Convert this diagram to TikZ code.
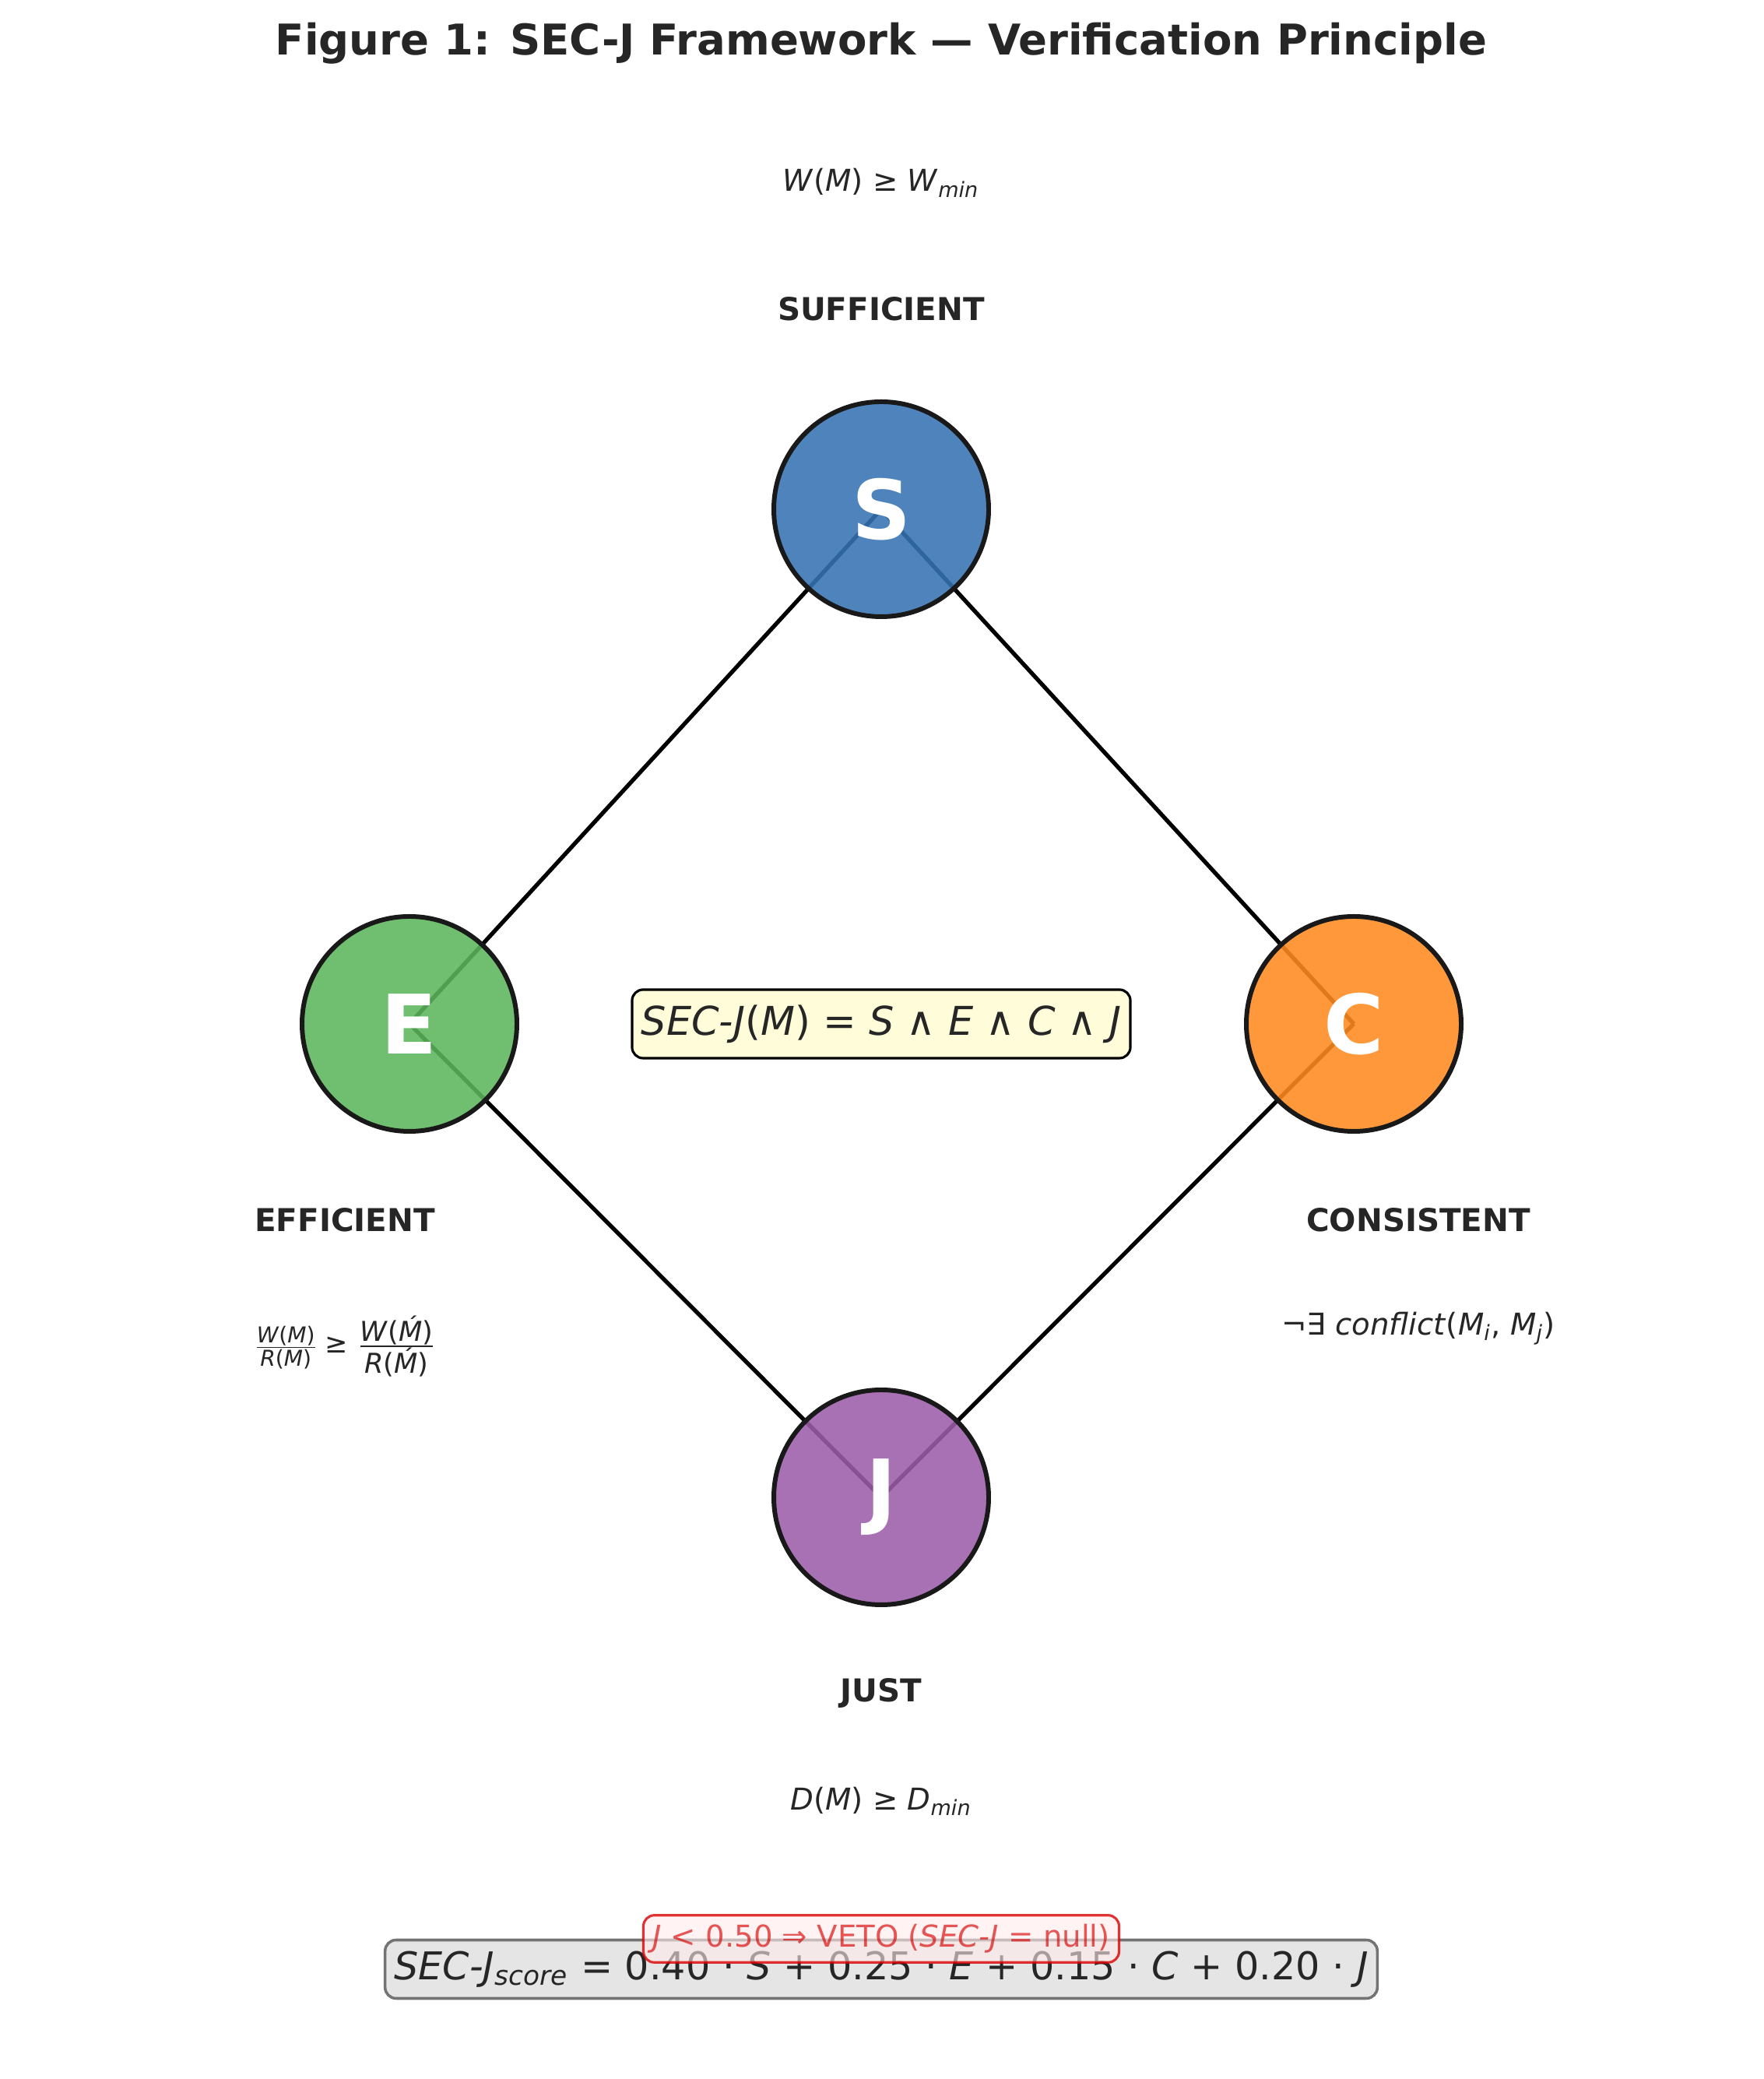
\documentclass[tikz,border=0pt]{standalone}
\usepackage{fontspec}
\setmainfont{DejaVu Sans}
\usetikzlibrary{positioning, calc}
\newcommand{\vi}[1]{\textit{#1}}
\definecolor{sblue}{HTML}{3573B2}
\definecolor{egreen}{HTML}{5CB55C}
\definecolor{corange}{HTML}{FF8A1F}
\definecolor{jpurple}{HTML}{9C5DA9}
\definecolor{txtgray}{HTML}{262626}

\begin{document}
\begin{tikzpicture}[
  % Node Styles
  pillar/.style={circle, draw=black!90, line width=1.7pt, fill opacity=0.88, text opacity=1, minimum size=2.76cm, text=white, font=\fontsize{30}{30}\selectfont\bfseries},
  tag/.style={text=txtgray, font=\fontsize{11.5}{13}\selectfont\bfseries},
  cond/.style={text=txtgray, font=\fontsize{11}{13}\selectfont},
  % Edge Styles
  edge/.style={line width=1.5pt, black}
]
\useasboundingbox (0,0) rectangle (22.65,26.7);

% Title
\node[tag, font=\fontsize{15.5}{18}\selectfont\bfseries] (title) at (11.32,26.14) {Figure 1: SEC-J Framework — Verification Principle};

% Corner coordinates
\coordinate (pS) at (11.32,20.16);
\coordinate (pE) at (5.26,13.55);
\coordinate (pC) at (17.39,13.55);
\coordinate (pJ) at (11.32,7.47);

% Edges (behind the circles)
\draw[edge] (pS) -- (pE);
\draw[edge] (pS) -- (pC);
\draw[edge] (pE) -- (pJ);
\draw[edge] (pC) -- (pJ);

% Pillars
\node[pillar, fill=sblue] (S) at (pS) {S};
\node[pillar, fill=egreen] (E) at (pE) {E};
\node[pillar, fill=corange] (C) at (pC) {C};
\node[pillar, fill=jpurple] (J) at (pJ) {J};

% Labels
\node[tag] (Ssuff) at (11.32,22.73) {SUFFICIENT};
\node[cond] (Scond) at (11.32,24.35) {\vi{W}(\vi{M}) ≥ \vi{W}\textsubscript{\vi{min}}};
\node[tag] (Eeff) at (4.43,11.03) {EFFICIENT};
\node[cond, font=\fontsize{8}{9}\selectfont] (Econd) at (4.43,9.41) {$\frac{\mbox{\vi{W}(\vi{M})}}{\mbox{\vi{R}(\vi{M})}}$ \fontsize{10}{10}\selectfont≥ $\frac{\mbox{\vi{W}(\vi{Ḿ})}}{\mbox{\vi{R}(\vi{Ḿ})}}$};
\node[tag] (Ccons) at (18.22,11.03) {CONSISTENT};
\node[cond] (Ccond) at (18.22,9.64) {¬∃ \vi{conflict}(\vi{M}\textsubscript{\vi{i}}, \vi{M}\textsubscript{\vi{j}})};
\node[tag] (Jjust) at (11.32,4.95) {JUST};
\node[cond] (Jcond) at (11.32,3.57) {\vi{D}(\vi{M}) ≥ \vi{D}\textsubscript{\vi{min}}};

% Central definition
\node[cond, draw=black, line width=0.9pt, rounded corners=4pt, fill=yellow!15, font=\fontsize{14.5}{16}\selectfont, minimum width=6.33cm, minimum height=0.88cm] (def) at (11.32,13.55) {\vi{SEC-J}(\vi{M}) = \vi{S} ∧ \vi{E} ∧ \vi{C} ∧ \vi{J}};

% Score and veto
\node[cond, draw=black!55, line width=1pt, rounded corners=4pt, fill=black!10, font=\fontsize{14}{16}\selectfont, minimum width=10.97cm, minimum height=0.75cm] (score) at (11.32,1.41) {\vi{SEC-J}\textsubscript{\vi{score}} = 0.40 · \vi{S} + 0.25 · \vi{E} + 0.15 · \vi{C} + 0.20 · \vi{J}};
\node[draw=red!85!black, line width=0.9pt, rounded corners=4pt, fill=red!8, fill opacity=0.6, draw opacity=0.8, text opacity=0.65, text=red!85!black, font=\fontsize{11}{13}\selectfont, minimum width=5.62cm, minimum height=0.6cm] (veto) at (11.32,1.80) {\vi{J} < 0.50 ⇒ VETO (\vi{SEC-J} = null)};

\end{tikzpicture}
\end{document}
